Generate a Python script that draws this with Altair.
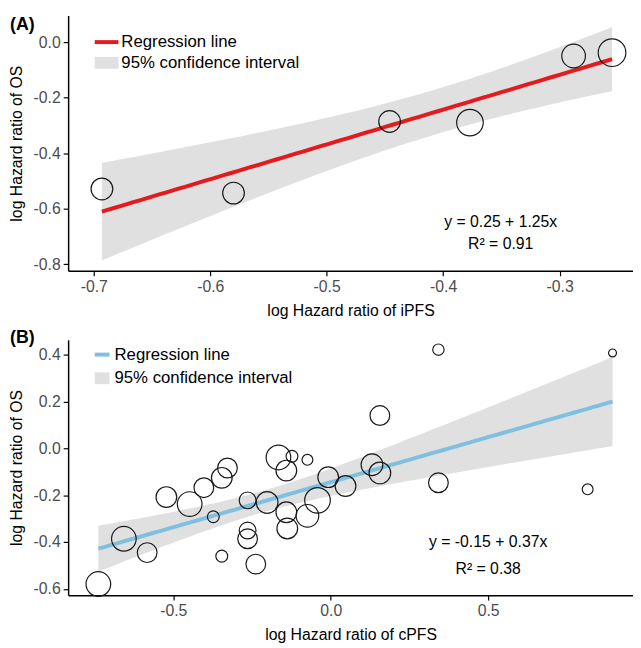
import altair as alt
import numpy as np
import pandas as pd

# ---------------- data ----------------
# Panel A: iPFS vs OS
a_x = [-0.693, -0.580, -0.446, -0.377, -0.288, -0.255]
a_y = [-0.529, -0.544, -0.286, -0.290, -0.050, -0.038]
a_w = [22, 22, 22, 27, 24, 28]          # marker diameter (study size)

# Panel B: cPFS vs OS
b_x = [0.342, 0.895, 0.156, -0.166, -0.123, -0.141, -0.074, -0.328, -0.346, -0.403,
       -0.522, -0.448, -0.373, -0.264, -0.202, -0.141, -0.138, -0.074, -0.042, -0.008,
       0.047, 0.131, 0.156, 0.342, 0.816, -0.264, -0.264, -0.346, -0.238, -0.657,
       -0.583, -0.738]
b_y = [0.421, 0.407, 0.140, -0.039, -0.034, -0.095, -0.049, -0.084, -0.126, -0.168,
       -0.208, -0.238, -0.292, -0.222, -0.231, -0.273, -0.342, -0.288, -0.222, -0.123,
       -0.161, -0.070, -0.105, -0.147, -0.175, -0.351, -0.386, -0.460, -0.494, -0.386,
       -0.445, -0.579]
b_w = [11.5, 8, 20, 25, 12, 21, 11, 20, 21, 20,
       21, 25, 12, 17, 22, 21, 21, 23, 26, 21,
       21, 22, 22, 20, 11, 17, 20, 12, 20, 25,
       20, 25]

a_eq = ["y = 0.25 + 1.25x", "R\u00b2 = 0.91"]
b_eq = ["y = -0.15 + 0.37x", "R\u00b2 = 0.38"]
legend_labels = ["Regression line", "95% confidence interval"]

FONT = "Liberation Sans"
BAND = "#e0e0e0"
RED = "#e41a1c"
BLUE = "#7fc0e0"
W, H = 573, 259


def fit_band(xs, ys, ds, tcrit):
    """Weighted least squares fit with 95% CI of the mean.
    Study weight recovered from the marker size (ggplot-style area scale)."""
    x = np.asarray(xs, float)
    y = np.asarray(ys, float)
    w = (np.asarray(ds, float) - 7.0) ** 2
    n = len(x)
    sw = w.sum()
    xb = (w * x).sum() / sw
    yb = (w * y).sum() / sw
    sxx = (w * (x - xb) ** 2).sum()
    slope = (w * (x - xb) * (y - yb)).sum() / sxx
    icpt = yb - slope * xb
    resid = y - (icpt + slope * x)
    s2 = (w * resid ** 2).sum() / (n - 2)
    grid = np.linspace(x.min(), x.max(), 80)
    fit = icpt + slope * grid
    se = np.sqrt(s2 * (1.0 / sw + (grid - xb) ** 2 / sxx))
    return pd.DataFrame({"x": grid, "fit": fit, "lo": fit - tcrit * se, "hi": fit + tcrit * se})


def minus_fix():
    return "replace(format(datum.value, '.1f'), '\u2212', '-')"


def panel(xs, ys, ws, tcrit, color, xdom, ydom, xticks, yticks, xtitle,
          eq, eq_x, eq_y, tag, tag_y, key_w, key_y1, key_y2, text_x):
    pts = pd.DataFrame({"x": xs, "y": ys, "s": [w * w for w in ws]})
    band_df = fit_band(xs, ys, ws, tcrit)
    xs_ = alt.Scale(domain=xdom, nice=False, zero=False)
    ys_ = alt.Scale(domain=ydom, nice=False, zero=False)
    xax = alt.Axis(values=xticks, labelExpr=minus_fix(), title=xtitle)
    yax = alt.Axis(values=yticks, labelExpr=minus_fix(), title="log Hazard ratio of OS")
    X = alt.X("x:Q", scale=xs_, axis=xax)
    Y = alt.Y("y:Q", scale=ys_, axis=yax)

    base = alt.Chart(band_df)
    band = base.mark_area(color=BAND, opacity=1).encode(
        x=alt.X("x:Q", scale=xs_, axis=xax),
        y=alt.Y("lo:Q", scale=ys_, axis=yax),
        y2="hi:Q")
    line = base.mark_line(color=color, strokeWidth=4).encode(
        x="x:Q", y="fit:Q")
    points = alt.Chart(pts).mark_point(shape="circle", filled=False, color="#1a1a1a",
                                       strokeWidth=1.2, opacity=1).encode(
        x=X, y=Y, size=alt.Size("s:Q", scale=None))
    ann = pd.DataFrame({"t": eq, "x": [eq_x, eq_x], "y": eq_y})
    txt = alt.Chart(ann).mark_text(font=FONT, fontSize=16, color="black").encode(
        x="x:Q", y="y:Q", text="t:N")

    leg = pd.DataFrame({"t": legend_labels})
    key_line = alt.Chart(leg.iloc[[0]]).mark_rule(color=color, strokeWidth=4).encode(
        x=alt.value(27), x2=alt.value(27 + key_w), y=alt.value(key_y1))
    key_rect = alt.Chart(leg.iloc[[1]]).mark_rect(color=BAND).encode(
        x=alt.value(27), x2=alt.value(27 + key_w),
        y=alt.value(key_y2 - 6), y2=alt.value(key_y2 + 6))
    key_t1 = alt.Chart(leg.iloc[[0]]).mark_text(font=FONT, fontSize=17, align="left",
                                                baseline="middle", color="black").encode(
        x=alt.value(text_x), y=alt.value(key_y1), text="t:N")
    key_t2 = alt.Chart(leg.iloc[[1]]).mark_text(font=FONT, fontSize=17, align="left",
                                                baseline="middle", color="black").encode(
        x=alt.value(text_x), y=alt.value(key_y2), text="t:N")
    tagc = alt.Chart(pd.DataFrame({"t": [tag]})).mark_text(
        font=FONT, fontSize=18, fontWeight="bold", align="left", baseline="middle",
        color="black").encode(x=alt.value(-59), y=alt.value(tag_y), text="t:N")

    return alt.layer(band, line, points, txt, key_line, key_rect, key_t1, key_t2, tagc
                     ).properties(width=W, height=H)


pa = panel(a_x, a_y, a_w, 2.776, RED, [-0.722, -0.237], [-0.824, 0.096],
           [-0.7, -0.6, -0.5, -0.4, -0.3], [0.0, -0.2, -0.4, -0.6, -0.8],
           "log Hazard ratio of iPFS", a_eq, -0.3506, [-0.650, -0.728],
           "(A)", 10, 24, 27, 48, 54)
pb = panel(b_x, b_y, b_w, 2.040, BLUE, [-0.834, 0.960], [-0.6265, 0.463],
           [-0.5, 0.0, 0.5], [0.4, 0.2, 0.0, -0.2, -0.4, -0.6],
           "log Hazard ratio of cPFS", b_eq, 0.50, [-0.40, -0.515],
           "(B)", -2, 15, 15, 39, 47)

chart = alt.vconcat(pa, pb, spacing=70, bounds="flush").properties(
    padding={"left": 0, "top": 3, "right": 0, "bottom": 0}
).configure(font=FONT).configure_view(stroke=None).configure_axis(
    grid=False, domainColor="black", domainWidth=1.5, tickColor="black", tickWidth=1.2,
    tickSize=5, labelPadding=3, labelFont=FONT, labelFontSize=16, labelColor="#4d4d4d",
    titleFont=FONT, titleFontSize=16, titleFontWeight="normal", titleColor="black",
    titlePadding=8
).configure_axisY(titlePadding=9)

chart.save("out.html", embed_options={"renderer": "svg", "actions": False})
